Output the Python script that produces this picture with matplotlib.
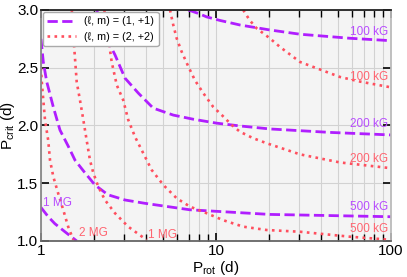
import matplotlib
matplotlib.use('Agg')
import matplotlib.pyplot as plt
from matplotlib.ticker import FixedLocator, NullFormatter

plt.rcParams['font.family'] = ['Liberation Sans', 'DejaVu Sans']
plt.rcParams['mathtext.fontset'] = 'custom'
plt.rcParams['mathtext.rm'] = 'Liberation Sans'

############# curves #########################################
# (l, m) = (1, +1), dashed purple
p11_1MG_x = [1.0, 1.1, 1.2, 1.37, 1.6]
p11_1MG_y = [1.29, 1.21, 1.15, 1.08, 1.0]

p11_500k_x = [1.0, 1.031, 1.078, 1.176, 1.284, 1.432, 1.564, 1.784, 2.034, 2.415, 3.02, 3.93, 7.11, 20.3, 100]
p11_500k_y = [2.75, 2.55, 2.38, 2.16, 1.96, 1.82, 1.70, 1.59, 1.485, 1.40, 1.355, 1.326, 1.27, 1.23, 1.21]

p11_200k_x = [2.08, 2.37, 2.65, 3.02, 3.60, 4.38, 5.70, 7.42, 10.1, 13.7, 20.3, 44.9, 100]
p11_200k_y = [3.0, 2.755, 2.61, 2.41, 2.28, 2.15, 2.09, 2.054, 2.02, 1.996, 1.97, 1.94, 1.918]

p11_100k_x = [6.95, 7.93, 8.85, 10.5, 13.7, 20.3, 30.2, 58.4, 100]
p11_100k_y = [3.0, 2.97, 2.94, 2.91, 2.87, 2.827, 2.79, 2.755, 2.734]

# (l, m) = (2, +2), dotted red
p22_2MG_x = [1.0, 1.009, 1.031, 1.054, 1.10, 1.126, 1.176, 1.255, 1.34, 1.43, 1.53]
p22_2MG_y = [2.5, 2.39, 2.22, 2.05, 1.87, 1.70, 1.557, 1.41, 1.27, 1.124, 1.01]

p22_1MG_x = [1.50, 1.544, 1.60, 1.67, 1.745, 1.825, 1.905, 1.99, 2.125, 2.32, 2.65, 3.15, 3.76, 4.02]
p22_1MG_y = [3.0, 2.70, 2.377, 2.22, 2.05, 1.87, 1.70, 1.59, 1.47, 1.355, 1.24, 1.124, 1.04, 1.01]

p22_500k_x = [2.30, 2.535, 2.71, 2.95, 3.15, 3.45, 3.84, 4.29, 5.00, 5.96, 7.11, 8.85, 11.0, 14.3, 19.5, 30.2, 58.4, 100]
p22_500k_y = [3.0, 2.55, 2.35, 2.22, 2.05, 1.90, 1.76, 1.615, 1.485, 1.37, 1.297, 1.24, 1.18, 1.124, 1.095, 1.08, 1.037, 1.01]

p22_200k_x = [5.46, 5.70, 5.96, 6.36, 6.95, 7.59, 8.46, 9.65, 10.8, 12.3, 13.7, 16.3, 19.5, 30.2, 51.1, 100]
p22_200k_y = [3.0, 2.87, 2.755, 2.64, 2.51, 2.39, 2.28, 2.16, 2.09, 2.004, 1.946, 1.89, 1.846, 1.75, 1.68, 1.63]

p22_100k_x = [14.3, 15.6, 17.1, 20.3, 23.2, 30.2, 37.7, 51.1, 66.5, 100]
p22_100k_y = [3.0, 2.91, 2.84, 2.755, 2.68, 2.55, 2.495, 2.42, 2.38, 2.33]

purple = '#b01eff'
red = '#ff4f5e'

fig = plt.figure(figsize=(4.07, 2.77), dpi=100)
ax = fig.add_axes([0.1007, 0.130, 0.86, 0.834])
ax.set_facecolor('#f4f4f4')

ax.plot(p11_1MG_x, p11_1MG_y, '--', color=purple, lw=2.0, label='(ℓ, m) = (1, +1)')
ax.plot(p11_500k_x, p11_500k_y, '--', color=purple, lw=2.0)
ax.plot(p11_200k_x, p11_200k_y, '--', color=purple, lw=2.0)
ax.plot(p11_100k_x, p11_100k_y, '--', color=purple, lw=2.0)

ax.plot(p22_2MG_x, p22_2MG_y, ':', color=red, lw=1.9, label='(ℓ, m) = (2, +2)')
ax.plot(p22_1MG_x, p22_1MG_y, ':', color=red, lw=1.9)
ax.plot(p22_500k_x, p22_500k_y, ':', color=red, lw=1.9)
ax.plot(p22_200k_x, p22_200k_y, ':', color=red, lw=1.9)
ax.plot(p22_100k_x, p22_100k_y, ':', color=red, lw=1.9)

# field strength labels
lab_purple = '#b84cff'
lab_red = '#ff6470'
fs = 8.5
ax.text(96, 2.812, '100 kG', color=lab_purple, fontsize=fs, ha='right', va='center')
ax.text(96, 2.417, '100 kG', color=lab_red, fontsize=fs, ha='right', va='center')
ax.text(96, 2.013, '200 kG', color=lab_purple, fontsize=fs, ha='right', va='center')
ax.text(96, 1.71, '200 kG', color=lab_red, fontsize=fs, ha='right', va='center')
ax.text(96, 1.297, '500 kG', color=lab_purple, fontsize=fs, ha='right', va='center')
ax.text(96, 1.10, '500 kG', color=lab_red, fontsize=fs, ha='right', va='center')
ax.text(1.027, 1.33, '1 MG', color=lab_purple, fontsize=fs, ha='left', va='center')
ax.text(1.65, 1.07, '2 MG', color=lab_red, fontsize=fs, ha='left', va='center')
ax.text(4.09, 1.052, '1 MG', color=lab_red, fontsize=fs, ha='left', va='center')

ax.set_xscale('log')
ax.set_xlim(1, 100)
ax.set_ylim(1, 3)
ax.xaxis.set_major_locator(FixedLocator([1, 10, 100]))
ax.set_xticklabels(['1', '10', '100'])
ax.xaxis.set_minor_locator(FixedLocator([2, 3, 4, 5, 6, 7, 8, 9, 20, 30, 40, 50, 60, 70, 80, 90]))
ax.xaxis.set_minor_formatter(NullFormatter())
ax.set_yticks([1.0, 1.5, 2.0, 2.5, 3.0])
ax.set_yticklabels(['1.0', '1.5', '2.0', '2.5', '3.0'])

ax.grid(True, which='both', axis='x', color='#d2d2d2', lw=0.8)
ax.grid(True, which='major', axis='y', color='#d2d2d2', lw=0.8)
ax.set_axisbelow(True)

ax.tick_params(which='both', direction='in', top=True, right=True, labelsize=11, pad=2)
ax.tick_params(which='major', length=6, width=1.2)
ax.tick_params(which='minor', length=5, width=1.0)

ax.spines['top'].set_color('#222222')
ax.spines['left'].set_color('#888888')
ax.spines['bottom'].set_color('#666666')
ax.spines['right'].set_color('#bbbbbb')
for s in ax.spines.values():
    s.set_linewidth(1.3)

ax.set_xlabel(r'P$_{\mathregular{rot}}$ (d)', fontsize=11, labelpad=1)
ax.set_ylabel(r'P$_{\mathregular{crit}}$ (d)', fontsize=11)
ax.yaxis.set_label_coords(-0.068, 0.5)

leg = ax.legend(loc='upper left', fontsize=7.8, handlelength=2.6, borderaxespad=0.2,
                framealpha=1, edgecolor='#aaaaaa', fancybox=True)

fig.savefig('out.png', dpi=100)
